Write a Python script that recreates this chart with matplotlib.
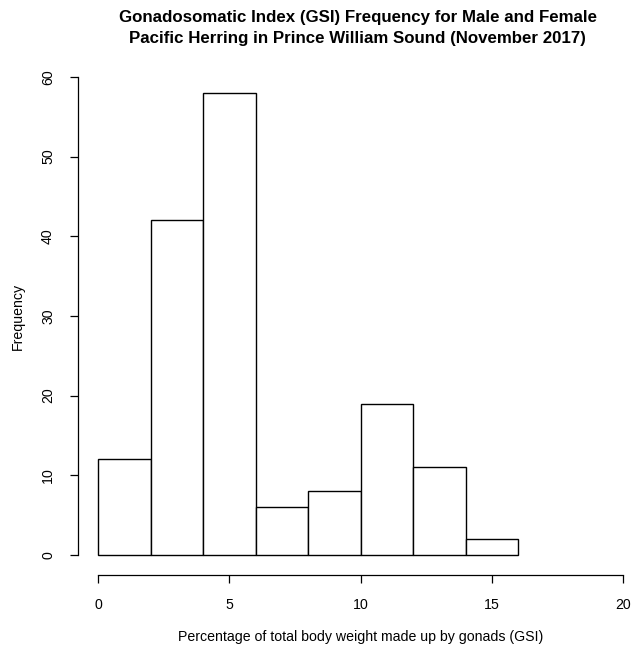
import matplotlib
matplotlib.use("Agg")
import matplotlib.pyplot as plt

plt.rcParams['font.family'] = ['Liberation Sans', 'DejaVu Sans']

# histogram bins (GSI %) and counts
bin_edges = [0, 2, 4, 6, 8, 10, 12, 14, 16]
counts = [12, 42, 58, 6, 8, 19, 11, 2]
x_ticks = [0, 5, 10, 15, 20]
y_ticks = [0, 10, 20, 30, 40, 50, 60]

fig = plt.figure(figsize=(6.33, 6.48), dpi=100)
ax = fig.add_axes([98 / 633, 93 / 648, 525 / 633, 478 / 648])

bars = ax.bar(bin_edges[:-1], counts, width=2, align='edge',
              facecolor='white', edgecolor='black', linewidth=1.0)
for b in bars:
    b.set_clip_on(False)

ax.set_xlim(0, 20)
ax.set_ylim(0, 60)

# R style axes: detached lines, no box
for s in ['top', 'right']:
    ax.spines[s].set_visible(False)
ax.spines['bottom'].set_position(('outward', 14.4))
ax.spines['left'].set_position(('outward', 14.4))
ax.spines['bottom'].set_bounds(0, 20)
ax.spines['left'].set_bounds(0, 60)
ax.spines['bottom'].set_linewidth(0.9)
ax.spines['left'].set_linewidth(0.9)

ax.set_xticks(x_ticks)
ax.set_yticks(y_ticks)
ax.tick_params(axis='both', length=5.5, width=0.9, labelsize=10.2, pad=11)
for lbl in ax.get_yticklabels():
    lbl.set_rotation(90)
    lbl.set_va('center')

ax.set_xlabel('Percentage of total body weight made up by gonads (GSI)',
              fontsize=10.2, labelpad=13)
ax.set_ylabel('Frequency', fontsize=10.2, labelpad=12)

fig.suptitle('Gonadosomatic Index (GSI) Frequency for Male and Female\n'
             'Pacific Herring in Prince William Sound (November 2017)',
             fontsize=12.2, fontweight='bold', y=0.984, x=0.565, linespacing=1.5)

fig.savefig('out.png', dpi=100)
